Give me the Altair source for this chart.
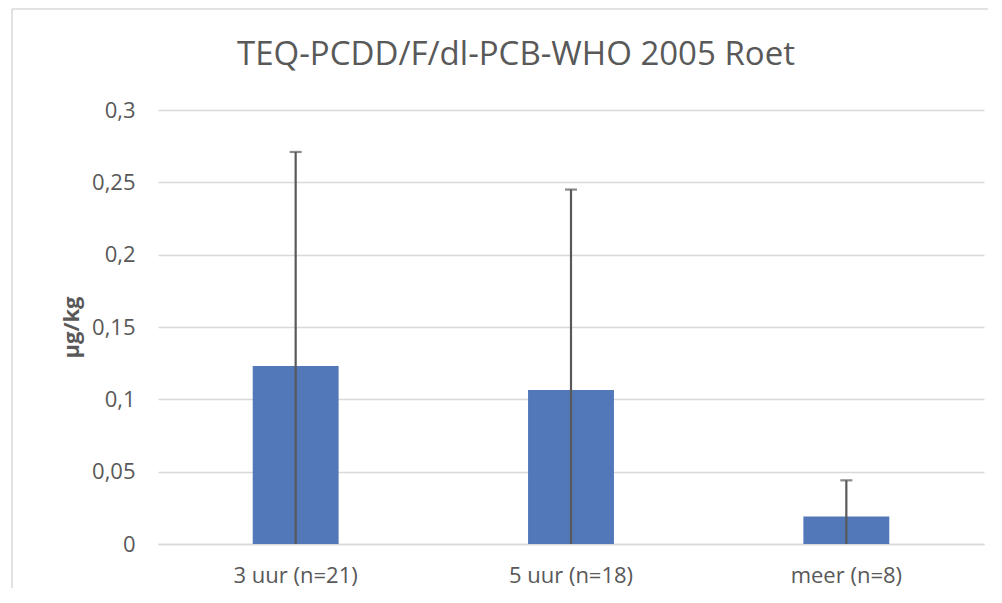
import altair as alt
import pandas as pd

categories = ["3 uur (n=21)", "5 uur (n=18)", "meer (n=8)"]
means = [0.123, 0.1065, 0.019]
sds = [0.148, 0.1385, 0.025]
y_ticks = [0, 0.05, 0.1, 0.15, 0.2, 0.25, 0.3]
title_text = "TEQ-PCDD/F/dl-PCB-WHO 2005 Roet"
y_title = "µg/kg"

df = pd.DataFrame({"cat": categories, "mean": means, "sd": sds})

FONT = "Open Sans"
GREY = "#595959"
W, H = 826, 434

x_enc = alt.X(
    "cat:N",
    sort=categories,
    scale=alt.Scale(paddingInner=0.688, paddingOuter=0.344),
    axis=alt.Axis(
        title=None, labelAngle=0, labelFont=FONT, labelFontSize=22,
        labelColor=GREY, ticks=False, domain=True, domainColor="#d9d9d9",
        domainWidth=1.5, labelPadding=21, grid=False,
    ),
)
y_scale = alt.Scale(domain=[0, 0.3], nice=False)

bars = alt.Chart(df).mark_bar(color="#5278BA").encode(
    x=x_enc,
    y=alt.Y(
        "mean:Q",
        scale=y_scale,
        axis=alt.Axis(
            values=y_ticks, title=y_title, labelFont=FONT, labelFontSize=22,
            labelColor=GREY, labelExpr="replace(toString(datum.value), '.', ',')",
            ticks=False, domain=False, grid=True, gridColor="#d9d9d9",
            gridWidth=1.5, labelPadding=23, titleFont=FONT, titleFontSize=22,
            titleFontWeight="bold", titleColor=GREY, titleX=-87, titleY=217,
            titleAlign="center", titleBaseline="middle", titleAngle=-90,
        ),
    ),
)

err_base = alt.Chart(df).transform_calculate(
    upper="datum.mean + datum.sd", lower="max(0, datum.mean - datum.sd)"
)
err_rule = err_base.mark_rule(color=GREY, strokeWidth=2.2).encode(
    x=alt.X("cat:N", sort=categories),
    y=alt.Y("lower:Q", scale=y_scale),
    y2="upper:Q",
)
err_cap = err_base.mark_tick(color=GREY, thickness=2.2, size=12).encode(
    x=alt.X("cat:N", sort=categories),
    y=alt.Y("upper:Q", scale=y_scale),
)

one = alt.Data(values=[{}])
border_left = alt.Chart(one).mark_rule(color="#d9d9d9", strokeWidth=1.5).encode(
    x=alt.value(-146), y=alt.value(-101), y2=alt.value(480)
)
border_top = alt.Chart(one).mark_rule(color="#d9d9d9", strokeWidth=1.5).encode(
    x=alt.value(-146), x2=alt.value(W + 4), y=alt.value(-101)
)
title_mark = alt.Chart(pd.DataFrame({"t": [title_text]})).mark_text(
    font=FONT, fontSize=33, color=GREY, align="center", baseline="alphabetic"
).encode(text="t:N", x=alt.value(516 - 158), y=alt.value(65 - 110))

chart = alt.layer(
    border_left, border_top, bars, err_rule, err_cap, title_mark
).properties(
    width=W, height=H,
    background="white",
    autosize=alt.AutoSizeParams(type="none"),
    padding={"left": 150, "top": 102, "right": 4, "bottom": 44},
).configure_view(strokeWidth=0)

chart.save("out.html", embed_options={"renderer": "svg", "actions": False})
